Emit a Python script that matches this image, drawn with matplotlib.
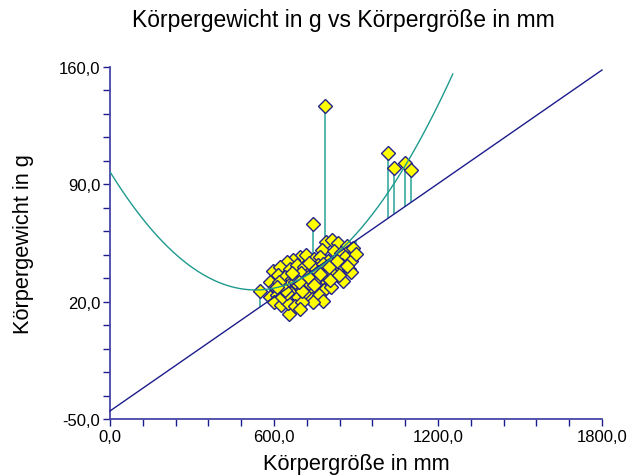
import numpy as np
import matplotlib
matplotlib.use("Agg")
import matplotlib.pyplot as plt
from matplotlib.ticker import FixedLocator, FuncFormatter

# Data (Körpergröße in mm, Körpergewicht in g)
groesse = [
    786.6, 1017, 1039, 1079, 1101, 743, 549, 655,
    790, 812, 834, 867, 889, 776, 820, 845,
    695, 717, 746, 768, 798, 860, 882, 670, 648,
    596, 622, 659, 684, 710, 735, 761, 787, 823, 849, 874,
    585, 615, 640, 666, 691, 717, 743, 768, 794, 820, 852, 882,
    604, 629, 655, 680, 706, 732, 757, 783, 808,
    585, 611, 637, 662, 688, 713, 739, 765, 779, 743,
    600, 626, 651, 677, 702, 695, 629,
    728, 754, 779, 805, 830, 677, 702, 728, 754, 648, 618, 805, 838, 867, 900,
    700, 725, 760, 800, 640, 665, 690, 612, 745, 770,
]
gewicht = [
    136.7, 108.7, 99.7, 102.7, 98.5, 66.3, 26.4, 12.6,
    55.6, 56.8, 55.0, 53.2, 52.0, 50.8, 50.2, 49.0,
    46.6, 47.8, 45.5, 46.6, 44.3, 46.6, 44.3, 44.9, 43.7,
    38.3, 40.7, 39.5, 41.9, 40.7, 38.3, 41.9, 39.5, 40.7, 41.9, 39.5,
    31.7, 35.9, 34.7, 33.5, 35.9, 34.1, 35.9, 32.9, 34.7, 35.9, 32.3, 37.7,
    28.8, 27.6, 29.9, 28.2, 30.5, 27.6, 29.3, 27.0, 28.8,
    22.8, 24.0, 21.6, 25.2, 22.8, 24.6, 21.6, 24.0, 20.4, 19.8,
    19.8, 18.0, 19.2, 17.4, 19.8, 15.6, 22.8,
    43.1, 39.5, 42.5, 38.3, 44.3, 31.7, 26.4, 31.1, 33.5, 25.2, 31.7, 32.9, 35.9, 41.3, 48.4,
    37.0, 35.0, 37.5, 40.5, 27.0, 37.0, 32.0, 28.5, 30.0, 36.5,
]

# linear fit line (slope, intercept) and quadratic curve coefficients (c2, c1, c0)
lin_coef = [0.113, -45.2]
quad_coef = [2.48e-4, -0.2645, 97.5]
quad_xmax = 1254

x_ticks_major = [0, 600, 1200, 1800]
x_ticks_minor = [120, 240, 360, 480, 720, 840, 960, 1080, 1320, 1440, 1560, 1680]
y_ticks_major = [-50, 20, 90, 160]
y_ticks_minor = [-36, -22, -8, 6, 34, 48, 62, 76, 104, 118, 132, 146]

title = "Körpergewicht in g vs Körpergröße in mm"
xlabel = "Körpergröße in mm"
ylabel = "Körpergewicht in g"

plt.rcParams['font.family'] = ['Liberation Sans', 'DejaVu Sans']

fig = plt.figure(figsize=(6.31, 4.77), dpi=100)
W, H = 631, 477
ax = fig.add_axes([110 / W, (H - 420) / H, (602 - 110) / W, (420 - 68) / H])

axis_col = "#4646a8"
line_col = "#1c1c8c"
curve_col = "#1f9a8e"
stem_col = "#3aaaa2"

gx = np.array(groesse)
gy = np.array(gewicht)

# residual stems to the linear line
ax.vlines(gx, gy, np.polyval(lin_coef, gx), colors=stem_col, lw=1.2, zorder=2.5)

# markers
ax.plot(gx, gy, linestyle='none', marker='D', markersize=6.8, markerfacecolor='#ffff00',
        markeredgecolor='#22228a', markeredgewidth=1.0, zorder=3)

# linear line
xl = np.array([0, 1800])
ax.plot(xl, np.polyval(lin_coef, xl), color=line_col, lw=1.0, zorder=4, clip_on=False)

# quadratic curve
xq = np.linspace(0, quad_xmax, 400)
ax.plot(xq, np.polyval(quad_coef, xq), color=curve_col, lw=1.0, zorder=4)

ax.set_xlim(0, 1800)
ax.set_ylim(-50, 160)
ax.xaxis.set_major_locator(FixedLocator(x_ticks_major))
ax.xaxis.set_minor_locator(FixedLocator(x_ticks_minor))
ax.yaxis.set_major_locator(FixedLocator(y_ticks_major))
ax.yaxis.set_minor_locator(FixedLocator(y_ticks_minor))
fmt = FuncFormatter(lambda v, p: f"{v:.1f}".replace('.', ','))
ax.xaxis.set_major_formatter(fmt)
ax.yaxis.set_major_formatter(fmt)

for s in ['top', 'right']:
    ax.spines[s].set_visible(False)
for s in ['left', 'bottom']:
    ax.spines[s].set_color(axis_col)
    ax.spines[s].set_linewidth(1.3)

ax.tick_params(which='both', direction='out', length=5, width=1.0, color=line_col,
               labelsize=12, pad=2)

ax.set_xlabel(xlabel, fontsize=15.7, labelpad=7)
ax.set_ylabel(ylabel, fontsize=15.7, labelpad=18)
fig.text(343 / W, 1 - 20 / H, title, fontsize=16.5, ha='center', va='center')

fig.savefig("out.png", dpi=100)
